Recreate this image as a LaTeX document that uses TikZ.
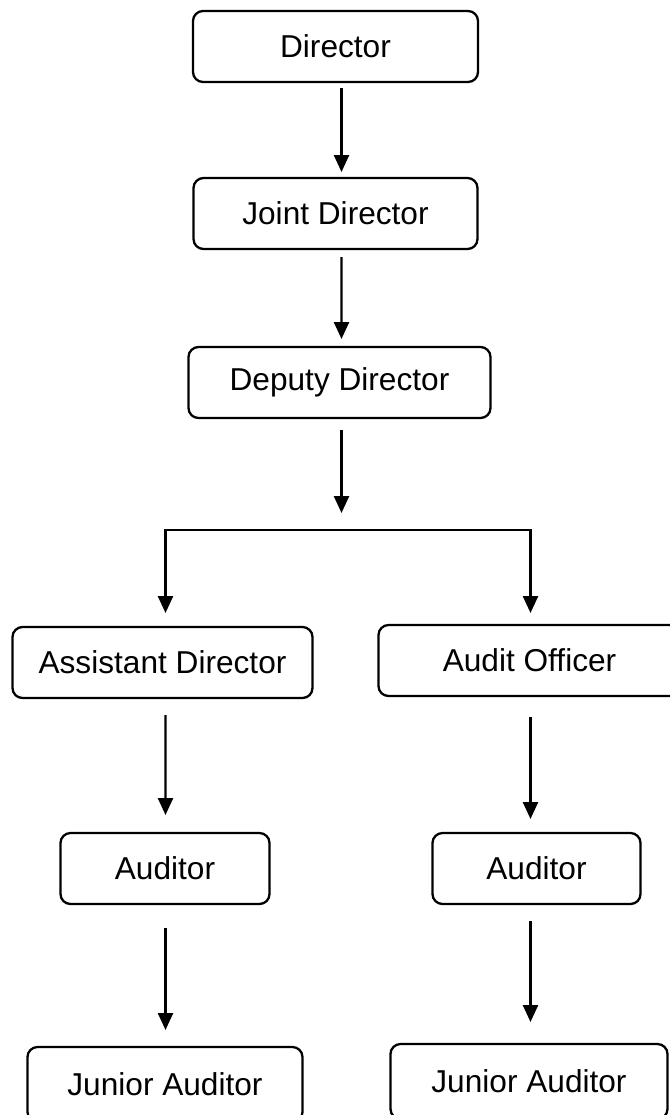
\documentclass[tikz,border=0pt]{standalone}
\usepackage{fontspec}
\setmainfont{Liberation Sans}
\usetikzlibrary{arrows.meta,positioning}
\tikzset{
        post/.style = {draw, rectangle, rounded corners=2mm,
            minimum height=14.2mm, line width=1.3pt, outer sep=0pt,
            font=\fontsize{18}{22}\selectfont},
        arrow/.style = {draw, line width=1.4pt,
            -{Triangle[length=3.4mm,width=3mm]}},
    }
\begin{document}
\begin{tikzpicture}
        \useasboundingbox (0,0) rectangle (134mm,-223mm);

        \node[post, minimum width=57mm] (dir) at (67.1mm,-9.3mm) {Director};
        \node[post, minimum width=56.8mm, below=19.2mm of dir] (joint) {Joint Director};
        \node[post, minimum width=60.4mm, below=19.6mm of joint, xshift=0.8mm] (deputy) {Deputy Director};
        \coordinate[below=22.4mm of deputy, xshift=0.4mm] (fork);

        \node[post, minimum width=60mm, below=41.8mm of deputy, xshift=-35.4mm] (asst) {Assistant Director};
        \node[post, minimum width=60.4mm, right=13.2mm of asst, yshift=0.4mm] (audit) {Audit Officer};

        \node[post, minimum width=41.8mm, below=27mm of asst, xshift=0.5mm] (aud1) {Auditor};
        \node[post, minimum width=41.6mm, below=27.4mm of audit, xshift=1.4mm] (aud2) {Auditor};

        \node[post, minimum width=55mm, minimum height=15mm, below=28.6mm of aud1] (jr1) {Junior Auditor};
        \node[post, minimum width=55.4mm, minimum height=15mm, below=28mm of aud2, xshift=-1.5mm] (jr2) {Junior Auditor};

        \draw[arrow, shorten <=1.2mm, shorten >=1.2mm] ([xshift=1.2mm]dir.south) -- ([xshift=1.2mm]joint.north);
        \draw[arrow, shorten <=1.6mm, shorten >=1.6mm] ([xshift=1.2mm]joint.south) -- ([xshift=0.4mm]deputy.north);
        \draw[arrow, shorten <=2.4mm, shorten >=3.4mm] ([xshift=0.4mm]deputy.south) -- (fork);

        % split to the two branches
        \draw[arrow, shorten >=2.8mm] (fork) -| ([xshift=0.6mm]asst.north);
        \draw[arrow, shorten >=2.4mm] (fork) -| ([xshift=0.2mm]audit.north);

        \draw[arrow, shorten <=3.4mm, shorten >=3.6mm] ([xshift=0.6mm]asst.south) -- ([xshift=0.1mm]aud1.north);
        \draw[arrow, shorten <=4.2mm, shorten >=2.8mm] ([xshift=0.2mm]audit.south) -- ([xshift=-1.2mm]aud2.north);
        \draw[arrow, shorten <=4.8mm, shorten >=3.4mm] ([xshift=0.1mm]aud1.south) -- ([xshift=0.1mm]jr1.north);
        \draw[arrow, shorten <=3.4mm, shorten >=4.4mm] ([xshift=-1.2mm]aud2.south) -- ([xshift=0.3mm]jr2.north);
\end{tikzpicture}
\end{document}
